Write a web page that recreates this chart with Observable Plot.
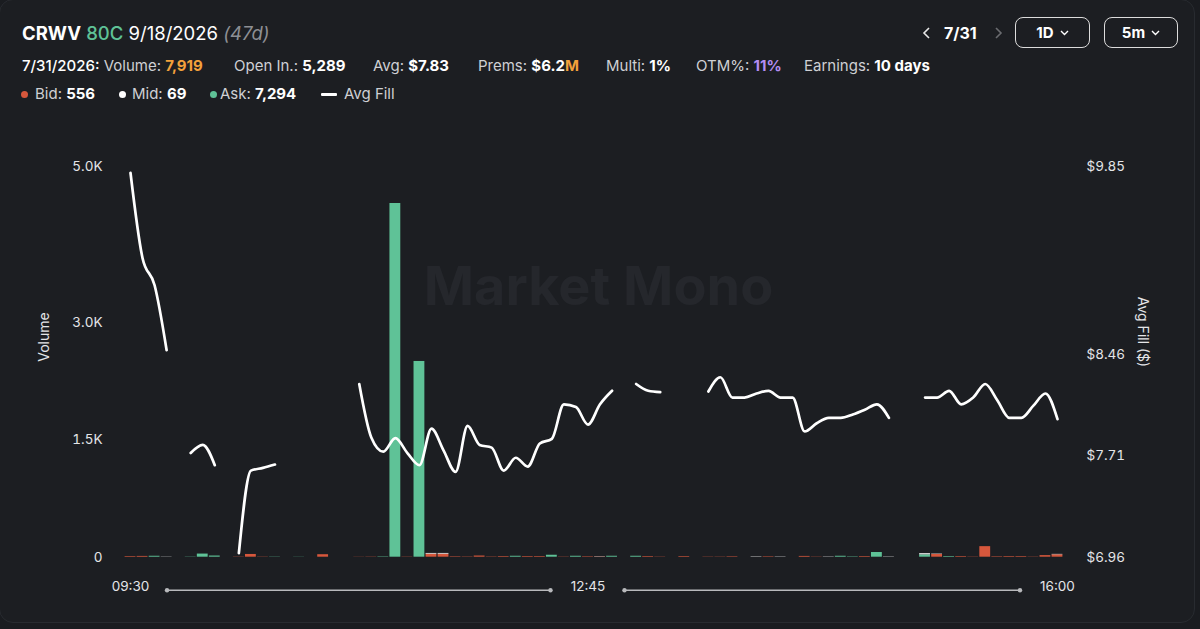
<!DOCTYPE html>
<html>
<head>
<meta charset="utf-8">
<script src="https://cdn.jsdelivr.net/npm/d3@7"></script>
<script src="https://cdn.jsdelivr.net/npm/@observablehq/plot@0.6"></script>
<style>
  html, body { margin: 0; padding: 0; width: 1200px; height: 629px; overflow: hidden; background: #1a1c20; font-family: Inter, "Noto Sans", sans-serif; }
  #card { position: absolute; left: -1px; top: -1px; width: 1194px; height: 622px; background: #1c1e22; border: 1px solid #282b30; border-radius: 14px; }
  #chart { position: absolute; left: 0; top: 0; }
  .t { position: absolute; white-space: nowrap; color: #ffffff; }
  .r1 { top: 22px; font-size: 18.5px; line-height: 22px; }
  .r2 { top: 56px; font-size: 15px; line-height: 20px; }
  .r3 { top: 84px; font-size: 15px; line-height: 20px; }
  .lab { color: #cfd0d4; font-weight: 400; }
  .val { color: #ffffff; font-weight: 700; }
  .dot { position: absolute; width: 7px; height: 7px; border-radius: 50%; top: 91px; }
  .btn { position: absolute; top: 17px; height: 29px; border: 1.5px solid #dcdcdc; border-radius: 8px; color: #fff; font-weight: 700; font-size: 15px; line-height: 29px; text-align: center; }
  .axt { position: absolute; width: 120px; height: 20px; line-height: 20px; text-align: center; font-size: 14px; color: #e4e5e8; white-space: nowrap; }
</style>
</head>
<body>
<div id="card"></div>
<div id="chart"></div>

<div class="t r1" style="left:22px"><span style="font-weight:700">CRWV</span> <span style="color:#5fc297;font-weight:500">80C</span> <span style="font-weight:400">9/18/2026</span> <span style="color:#8d8f94;font-style:italic">(47d)</span></div>

<div class="t r2" style="left:22px"><span style="font-weight:500">7/31/2026:</span> <span class="lab">Volume:</span> <span class="val" style="color:#f3a13b">7,919</span></div>
<div class="t r2" style="left:234px"><span class="lab">Open In.:</span> <span class="val">5,289</span></div>
<div class="t r2" style="left:373px"><span class="lab">Avg:</span> <span class="val">$7.83</span></div>
<div class="t r2" style="left:478px"><span class="lab">Prems:</span> <span class="val">$6.2</span><span class="val" style="color:#f3a13b">M</span></div>
<div class="t r2" style="left:606px"><span class="lab">Multi:</span> <span class="val">1%</span></div>
<div class="t r2" style="left:696px"><span class="lab">OTM%:</span> <span class="val" style="color:#b48df2">11%</span></div>
<div class="t r2" style="left:804px"><span class="lab">Earnings:</span> <span class="val">10 days</span></div>

<div class="dot" style="left:21px;background:#d6573c"></div>
<div class="t r3" style="left:35px"><span class="lab">Bid:</span> <span class="val">556</span></div>
<div class="dot" style="left:119px;background:#ffffff"></div>
<div class="t r3" style="left:132px"><span class="lab">Mid:</span> <span class="val">69</span></div>
<div class="dot" style="left:210px;background:#5fc297"></div>
<div class="t r3" style="left:220px"><span class="lab">Ask:</span> <span class="val">7,294</span></div>
<div style="position:absolute;left:321px;top:93px;width:16px;height:2.5px;background:#fff;border-radius:1px"></div>
<div class="t r3" style="left:344px"><span class="lab">Avg Fill</span></div>

<svg style="position:absolute;left:922px;top:27px" width="10" height="12"><polyline points="7,1 2,6 7,11" fill="none" stroke="#e8e8e8" stroke-width="1.6"/></svg>
<div class="t" style="left:944px;top:23px;font-size:16px;line-height:20px;font-weight:700">7/31</div>
<svg style="position:absolute;left:993px;top:27px" width="10" height="12"><polyline points="3,1 8,6 3,11" fill="none" stroke="#6a6c70" stroke-width="1.6"/></svg>

<div class="btn" style="left:1015px;width:73px">1D<svg style="margin-left:6px;vertical-align:2px" width="9" height="6"><polyline points="1,1 4.5,4.5 8,1" fill="none" stroke="#fff" stroke-width="1.4"/></svg></div>
<div class="btn" style="left:1104px;width:72px">5m<svg style="margin-left:6px;vertical-align:2px" width="9" height="6"><polyline points="1,1 4.5,4.5 8,1" fill="none" stroke="#fff" stroke-width="1.4"/></svg></div>

<div class="axt" style="left:-16px;top:326.7px;transform:rotate(-90deg)">Volume</div>
<div class="axt" style="left:1083.3px;top:321.7px;transform:rotate(90deg)">Avg Fill ($)</div>

<script>
// ---- Data (5-minute slots from 09:30 to 15:55) ----
const bid = [
  8,10,0,0,0,0,0,0,0,3,
  35,3,0,0,0,0,32,0,0,2,
  3,0,0,3,0,38,38,6,4,15,
  4,8,0,8,8,0,3,0,6,4,
  0,0,0,8,3,0,8,0,3,3,
  6,0,0,6,0,0,10,3,0,0,
  0,8,0,0,0,0,0,35,0,8,
  3,135,6,8,8,3,20,31
];
const mid = [
  0,0,0,3,0,0,0,0,0,0,
  0,0,0,0,0,0,0,0,0,0,
  0,0,0,0,0,10,10,0,0,0,
  0,0,0,0,0,0,0,0,0,4,
  0,0,0,0,0,0,0,0,0,0,
  0,0,5,0,4,0,0,0,4,0,
  0,0,0,4,0,0,15,5,0,0,
  0,0,0,0,0,0,0,5
];
const ask = [
  0,0,12,0,0,3,40,15,0,0,
  0,0,3,0,2,0,0,0,0,0,
  0,5,4523,0,2503,0,0,0,0,0,
  0,0,12,0,0,25,0,12,0,0,
  12,0,12,0,0,0,0,0,0,0,
  0,0,0,0,0,0,0,0,0,12,
  5,0,60,0,0,0,30,0,8,0,
  0,0,0,0,0,0,0,0
];
const avgFill = [
  9.80,9.17,8.97,8.49,null,7.73,7.79,7.64,null,6.99,
  7.60,7.62,7.645,null,null,null,null,null,null,8.24,
  7.845,7.74,7.84,7.73,7.64,7.91,7.75,7.59,7.93,7.79,
  7.77,7.60,7.695,7.63,7.80,7.835,8.09,8.07,7.94,8.09,
  8.19,null,8.24,8.19,8.18,null,null,null,8.185,8.29,
  8.14,8.14,8.17,8.19,8.14,8.14,7.89,7.95,7.99,7.99,
  8.015,8.05,8.09,7.99,null,null,8.14,8.14,8.19,8.09,
  8.14,8.24,8.12,7.99,7.99,8.08,8.17,7.98
];
const volumeTicks = [0, 1500, 3000, 5000];
const fillTicks = [6.96, 7.71, 8.46, 9.85];
const xTickSlots = [0, 38, 77];
const xTickLabels = ["09:30", "12:45", "16:00"];
const seriesNames = ["Bid", "Mid", "Ask"];
const seriesColors = ["#d6573c", "#f2f2f2", "#5fc297"];

// ---- Build tables ----
const volMax = 5000, fillLo = fillTicks[0], fillHi = fillTicks[fillTicks.length - 1];
const toY = f => f == null ? NaN : (f - fillLo) / (fillHi - fillLo) * volMax;
const bars = [];
for (let i = 0; i < bid.length; i++) {
  bars.push({slot: i, type: "Ask", v: ask[i]});
  bars.push({slot: i, type: "Bid", v: bid[i]});
  bars.push({slot: i, type: "Mid", v: mid[i]});
}
const fillRows = avgFill.map((f, i) => ({slot: i + 0.5, y: toY(f)}));
const textColor = "#e4e5e8";

const axisConnector = (index, scales, values, dims) => {
  const g = d3.create("svg:g");
  const y = dims.height - dims.marginBottom + 33.5;
  const gap = 37;
  for (let k = 0; k < xTickSlots.length - 1; k++) {
    const a = scales.x(xTickSlots[k] + 0.5) + gap;
    const b = scales.x(xTickSlots[k + 1] + 0.5) - gap;
    g.append("line").attr("x1", a).attr("x2", b).attr("y1", y).attr("y2", y)
      .attr("stroke", "#b8b9bc").attr("stroke-width", 1.4);
    g.append("circle").attr("cx", a).attr("cy", y).attr("r", 2.2).attr("fill", "#b8b9bc");
    g.append("circle").attr("cx", b).attr("cy", y).attr("r", 2.2).attr("fill", "#b8b9bc");
  }
  return g.node();
};

const chart = Plot.plot({
  width: 1200,
  height: 629,
  marginLeft: 124,
  marginRight: 137,
  marginTop: 165.7,
  marginBottom: 72.3,
  style: {background: "transparent", fontFamily: "Inter, 'Noto Sans', sans-serif", color: textColor},
  x: {domain: [0, bid.length], axis: null},
  y: {domain: [0, volMax]},
  color: {domain: seriesNames, range: seriesColors},
  marks: [
    Plot.text(["Market Mono"], {frameAnchor: "middle", dx: 4.5, dy: -74, fontSize: 54, fontWeight: 700, fill: "#25272c"}),
    Plot.rectY(bars.filter(d => d.v > 0), {x1: "slot", x2: d => d.slot + 1, y: "v", fill: "type", insetLeft: 0.6, insetRight: 0.6}),
    Plot.line(fillRows, {x: "slot", y: "y", curve: "monotone-x", stroke: "#ffffff", strokeWidth: 2.7}),
    Plot.axisY(volumeTicks, {anchor: "left", tickSize: 0, tickPadding: 22, fontSize: 13.5, fill: textColor, label: null,
      tickFormat: d => d === 0 ? "0" : (d / 1000).toFixed(1) + "K"}),
    Plot.axisY(fillTicks.map(toY), {anchor: "right", tickSize: 0, tickPadding: 23, fontSize: 13.5, fill: textColor, label: null,
      tickFormat: v => "$" + (fillLo + v / volMax * (fillHi - fillLo)).toFixed(2)}),
    Plot.text(xTickLabels, {x: (d, i) => xTickSlots[i] + 0.5, frameAnchor: "bottom", dy: 33.5, fontSize: 13.5, fill: textColor}),
    axisConnector
  ]
});
document.getElementById("chart").appendChild(chart);
</script>
</body>
</html>
